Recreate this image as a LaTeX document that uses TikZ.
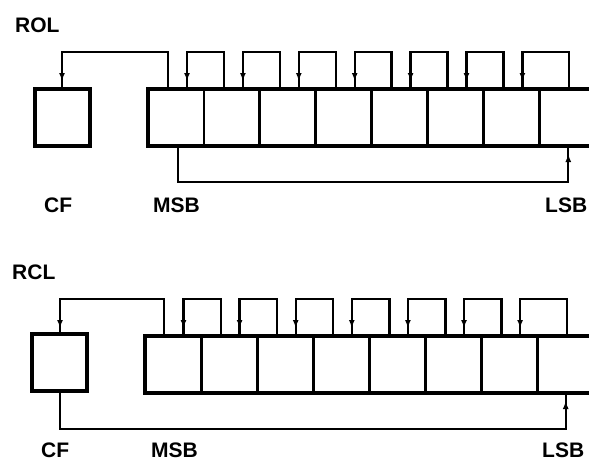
\documentclass[tikz,border=0pt]{standalone}
\usepackage{fontspec}
\setmainfont{Liberation Sans}
\usetikzlibrary{arrows.meta,calc}
\begin{document}
\begin{tikzpicture}[x=1pt,y=-1pt,
  cell/.style={draw,line width=2.8pt,minimum width=#1,minimum height=57pt,inner sep=0pt,outer sep=0pt,anchor=north west},
  cfbox/.style={draw,line width=4.2pt,minimum width=55pt,minimum height=57pt,inner sep=0pt,outer sep=0pt,anchor=north west},
  wire/.style={line width=2.3pt},
  thickline/.style={line width=4.2pt},
  tipmark/.style={line width=2.3pt,-{Latex[length=8pt,width=6pt]}},
  lbl/.style={font=\fontsize{21}{21}\selectfont\bfseries,inner sep=0pt,anchor=base west}]
\path[use as bounding box] (0,0) rectangle (589,461);
\clip (0,0) rectangle (589,461);

% ---------------- ROL ----------------
\node[lbl] (rol) at (15,32) {ROL};
\node[cfbox] (cfA) at (35,89) {};
\foreach \i in {1,...,8}{
  \node[cell=55.9pt] (a\i) at ({148+55.9*(\i-1)},89) {};
}
\draw[thickline] (a8.north east) -- (a1.north west) -- (a1.south west) -- (a8.south east);
% MSB -> CF
\draw[wire] ($(a1.north west)+(20,0)$) -- ++(0,-37) -| ($(cfA.north west)+(27,0)$);
\draw[tipmark] ($(cfA.north west)+(27,-21)$) -- ($(cfA.north west)+(27,-8)$);
% bit loops
\foreach \i/\j/\s in {1/2/20,2/3/20,3/4/20,4/5/20,5/6/20,6/7/20,7/8/30}{
  \draw[wire] ($(a\j.north west)+(\s,0)$) -- ++(0,-37) -| ($(a\i.north west)+(39,0)$);
  \draw[tipmark] ($(a\i.north west)+(39,-21)$) -- ($(a\i.north west)+(39,-8)$);
}
% MSB -> LSB
\draw[wire] ($(a1.south west)+(30,0)$) -- ++(0,36) -| ($(a8.south west)+(29,0)$);
\draw[tipmark] ($(a8.south west)+(29,21)$) -- ($(a8.south west)+(29,8)$);
\node[lbl] (cfAl) at (44,212) {CF};
\node[lbl] (msbA) at (153,212) {MSB};
\node[lbl] (lsbA) at (545,212) {LSB};

% ---------------- RCL ----------------
\node[lbl] (rcl) at (12,279) {RCL};
\node[cfbox] (cfB) at (32,334) {};
\foreach \i in {1,...,8}{
  \node[cell=56.1pt] (b\i) at ({145+56.1*(\i-1)},336) {};
}
\draw[thickline] (b8.north east) -- (b1.north west) -- (b1.south west) -- (b8.south east);
% MSB -> CF
\draw[wire] ($(b1.north west)+(19,0)$) -- ++(0,-37) -| ($(cfB.north west)+(28,0)$);
\draw[tipmark] ($(cfB.north west)+(28,-19)$) -- ($(cfB.north west)+(28,-6)$);
% bit loops
\foreach \i/\j/\s in {1/2/20,2/3/20,3/4/20,4/5/20,5/6/20,6/7/20,7/8/29}{
  \draw[wire] ($(b\j.north west)+(\s,0)$) -- ++(0,-37) -| ($(b\i.north west)+(38.5,0)$);
  \draw[tipmark] ($(b\i.north west)+(38.5,-21)$) -- ($(b\i.north west)+(38.5,-8)$);
}
% CF -> LSB
\draw[wire] ($(cfB.south west)+(28,0)$) -- ++(0,38) -| ($(b8.south west)+(28,0)$);
\draw[tipmark] ($(b8.south west)+(28,21)$) -- ($(b8.south west)+(28,8)$);
\node[lbl] (cfBl) at (41,457) {CF};
\node[lbl] (msbB) at (151,457) {MSB};
\node[lbl] (lsbB) at (542,457) {LSB};
\end{tikzpicture}
\end{document}
